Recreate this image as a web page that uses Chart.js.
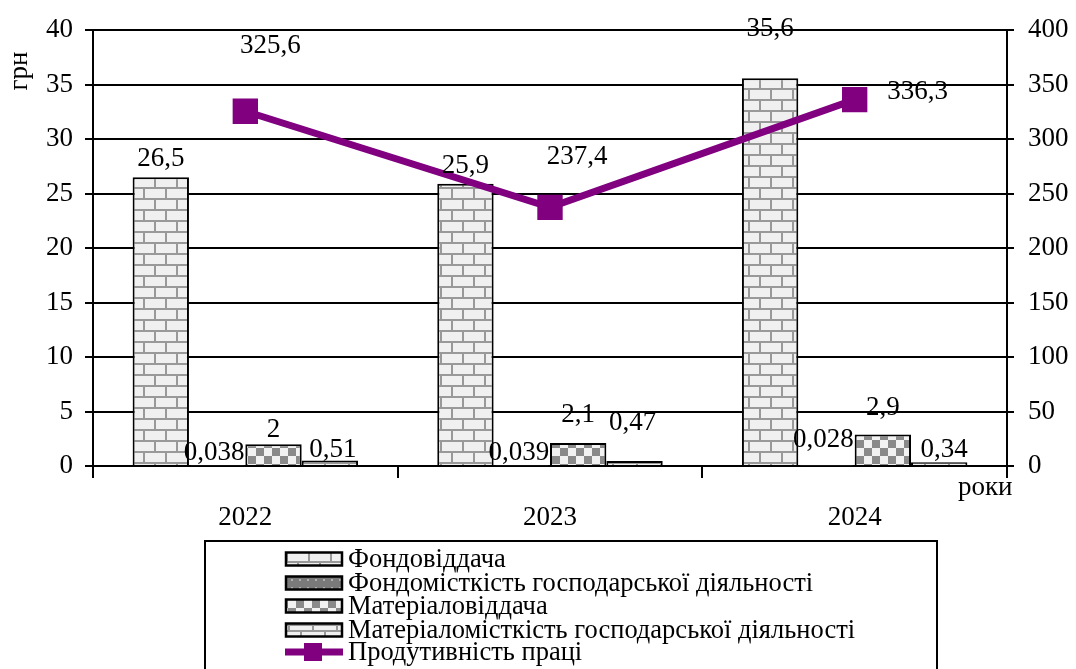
<!DOCTYPE html>
<html>
<head>
<meta charset="utf-8">
<script src="https://cdn.jsdelivr.net/npm/chart.js@4/dist/chart.umd.min.js"></script>
<style>
  html, body { margin: 0; padding: 0; background: #fff; }
</style>
</head>
<body>
<canvas id="chart" width="1076" height="669"></canvas>
<script>
// роки та показники
const years = ["2022", "2023", "2024"];
const fondovid = [26.5, 25.9, 35.6];
const fondomist = [0.038, 0.039, 0.028];
const matvid = [2, 2.1, 2.9];
const matmist = [0.51, 0.47, 0.34];
const produkt = [325.6, 237.4, 336.3];

const leftTicks = [0, 5, 10, 15, 20, 25, 30, 35, 40];
const rightTicks = [0, 50, 100, 150, 200, 250, 300, 350, 400];

const FONT = "'Liberation Serif', 'Times New Roman', serif";
const PURPLE = "#800080";

// --- штрихування стовпчиків ---
function makeTile(w, h, draw) {
  const c = document.createElement("canvas");
  c.width = w; c.height = h;
  const g = c.getContext("2d");
  draw(g, w, h);
  return c;
}

const brickTile = makeTile(22, 22, (g, w, h) => {
  g.fillStyle = "#f0f0f0"; g.fillRect(0, 0, w, h);
  g.fillStyle = "#999";
  g.fillRect(0, 0, w, 2);
  g.fillRect(0, 11, w, 2);
  g.fillRect(0, 0, 2, 11);
  g.fillRect(11, 11, 2, 11);
});

const dotTile = makeTile(8, 8, (g, w, h) => {
  g.fillStyle = "#7a7a7a"; g.fillRect(0, 0, w, h);
  g.fillStyle = "#b0b0b0"; g.fillRect(3, 3, 2, 2);
});

const checkTile = makeTile(16, 16, (g, w, h) => {
  g.fillStyle = "#f2f2f2"; g.fillRect(0, 0, w, h);
  g.fillStyle = "#8a8a8a";
  g.fillRect(0, 0, 8, 8);
  g.fillRect(8, 8, 8, 8);
});

const lineTile = makeTile(24, 12, (g, w, h) => {
  g.fillStyle = "#f0f0f0"; g.fillRect(0, 0, w, h);
  g.fillStyle = "#999";
  g.fillRect(0, 0, w, 2);
  g.fillRect(0, 6, w, 2);
  g.fillRect(0, 0, 2, 6);
  g.fillRect(12, 6, 2, 6);
});

const canvas = document.getElementById("chart");
const ctx = canvas.getContext("2d");
const pat = t => ctx.createPattern(t, "repeat");

// зсуви підписів відносно верхівки стовпчика / маркера
const labelShift = [
  [[0, -18], [0, -18], [0, -49]],
  [[-3, -13], [-3, -13], [-3, -26]],
  [[0, -14], [0, -28], [0, -26]],
  [[3, -11], [-2, -38], [5, -12]],
  [[25, -65], [27, -50], [63, -8]]
];

const fmt = v => String(v).replace(".", ",");

const labelsPlugin = {
  id: "labels",
  afterDatasetsDraw(chart) {
    const c = chart.ctx;
    c.save();
    c.font = "27px " + FONT;
    c.fillStyle = "#000";
    c.textAlign = "center";
    c.textBaseline = "middle";
    chart.data.datasets.forEach((ds, i) => {
      const meta = chart.getDatasetMeta(i);
      meta.data.forEach((el, j) => {
        const [dx, dy] = labelShift[i][j];
        c.fillText(fmt(ds.data[j]), el.x + dx, el.y + dy);
      });
    });

    // назви осей
    c.textBaseline = "alphabetic";
    c.textAlign = "left";
    c.fillText("роки", 958, 495);
    c.save();
    c.translate(27, 71);
    c.rotate(-Math.PI / 2);
    c.textAlign = "center";
    c.fillText("грн", 0, 0);
    c.restore();
    c.restore();
  }
};

// легенда в рамці під графіком
const legendPlugin = {
  id: "boxLegend",
  afterDraw(chart) {
    const c = chart.ctx;
    c.save();
    c.strokeStyle = "#000";
    c.lineWidth = 2;
    c.strokeRect(205, 541, 732, 140);
    c.font = "26.5px " + FONT;
    c.textBaseline = "middle";
    c.textAlign = "left";
    const rows = [559, 583, 606, 630, 652];
    chart.data.datasets.forEach((ds, i) => {
      const y = rows[i];
      if (ds.type === "line") {
        c.fillStyle = PURPLE;
        c.fillRect(285, y - 3.5, 58, 7);
        c.fillRect(304, y - 9, 18, 18);
      } else {
        c.lineWidth = 2.5;
        c.fillStyle = ds.backgroundColor;
        c.fillRect(286, y - 6.5, 56, 13);
        c.strokeRect(286, y - 6.5, 56, 13);
      }
      c.fillStyle = "#000";
      c.fillText(ds.label, 348, y + 1);
    });
    c.restore();
  }
};

const barStyle = { type: "bar", yAxisID: "y", borderColor: "#000", borderWidth: 2, categoryPercentage: 0.74, barPercentage: 1, order: 1 };

new Chart(ctx, {
  data: {
    labels: years,
    datasets: [
      { ...barStyle, label: "Фондовіддача", data: fondovid, backgroundColor: pat(brickTile) },
      { ...barStyle, label: "Фондомісткість господарської діяльності", data: fondomist, backgroundColor: pat(dotTile) },
      { ...barStyle, label: "Матеріаловіддача", data: matvid, backgroundColor: pat(checkTile) },
      { ...barStyle, label: "Матеріаломісткість господарської діяльності", data: matmist, backgroundColor: pat(lineTile) },
      {
        type: "line",
        label: "Продутивність праці",
        data: produkt,
        yAxisID: "y2",
        borderColor: PURPLE,
        backgroundColor: PURPLE,
        borderWidth: 7,
        pointStyle: "rect",
        pointRadius: 13,
        pointBackgroundColor: PURPLE,
        pointBorderColor: PURPLE,
        order: 0
      }
    ]
  },
  options: {
    responsive: false,
    animation: false,
    layout: { padding: { top: 29, left: 0, right: 0, bottom: 0 } },
    plugins: {
      legend: { display: false },
      tooltip: { enabled: false }
    },
    scales: {
      x: {
        offset: true,
        grid: { display: true, offset: true, drawOnChartArea: false, tickLength: 12, color: "#000", lineWidth: 2 },
        border: { color: "#000", width: 2 },
        ticks: { font: { family: FONT, size: 27 }, color: "#000", padding: 24 },
        afterFit: s => { s.height = 203; }
      },
      y: {
        position: "left",
        min: 0, max: 40,
        afterBuildTicks: s => { s.ticks = leftTicks.map(v => ({ value: v })); },
        grid: { color: "#000", lineWidth: 2, tickLength: 8 },
        border: { color: "#000", width: 2 },
        ticks: { font: { family: FONT, size: 27 }, color: "#000", padding: 12 },
        afterFit: s => { s.width = 93; }
      },
      y2: {
        position: "right",
        min: 0, max: 400,
        afterBuildTicks: s => { s.ticks = rightTicks.map(v => ({ value: v })); },
        grid: { drawOnChartArea: false, color: "#000", lineWidth: 2, tickLength: 7 },
        border: { color: "#000", width: 2 },
        ticks: { font: { family: FONT, size: 27 }, color: "#000", padding: 14 },
        afterFit: s => { s.width = 69; }
      }
    }
  },
  plugins: [labelsPlugin, legendPlugin]
});
</script>
</body>
</html>
